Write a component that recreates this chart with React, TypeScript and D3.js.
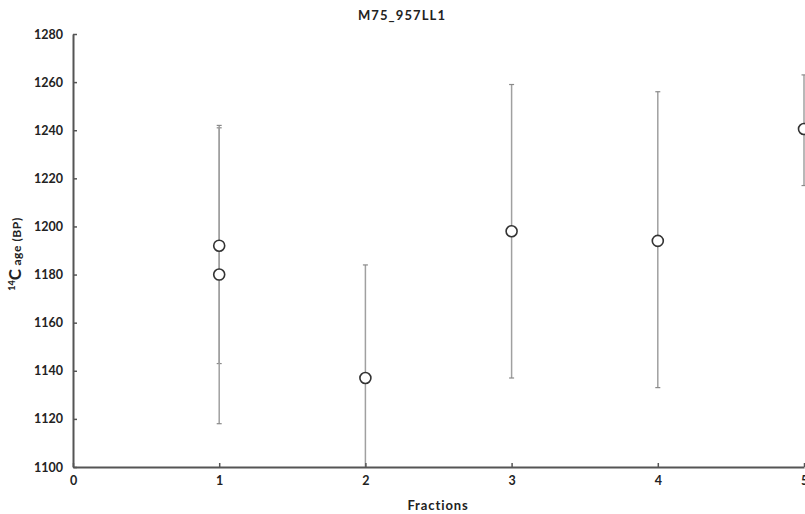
import { axisBottom, axisLeft, scaleLinear, select } from "d3";
import { useEffect, useRef } from "react";

const title = "M75_957LL1";
const xLabel = "Fractions";
const xTicks = [0, 1, 2, 3, 4, 5];
const yTicks = [1100, 1120, 1140, 1160, 1180, 1200, 1220, 1240, 1260, 1280];

// one entry per measurement (fraction 1 has two)
const fractions = [1, 1, 2, 3, 4, 5];
const ages = [1192, 1180, 1137, 1198, 1194, 1240.5];
const errLow = [1143, 1118, 1090, 1137, 1133, 1217];
const errHigh = [1241, 1242, 1184, 1259, 1256, 1263];

export default function App() {
    const ref = useRef<SVGSVGElement>(null);

    useEffect(() => {
        const svg = select(ref.current);
        svg.selectAll("*").remove();
        const left = 73, right = 804, top = 34, bottom = 467;
        const font = "Lato, 'Open Sans', sans-serif";

        const x = scaleLinear().domain([0, 5]).range([left, right]);
        const y = scaleLinear().domain([1100, 1280]).range([bottom, top]);

        svg.append("defs").append("clipPath").attr("id", "plot")
            .append("rect")
            .attr("x", left).attr("y", top - 10)
            .attr("width", right - left + 10).attr("height", bottom - top + 10);

        // error bars
        const bars = svg.append("g").attr("clip-path", "url(#plot)");
        fractions.forEach((f, i) => {
            const cx = x(f);
            bars.append("line")
                .attr("x1", cx).attr("x2", cx)
                .attr("y1", y(errLow[i])).attr("y2", y(errHigh[i]))
                .attr("stroke", "#a0a0a0").attr("stroke-width", 1.5);
            [errLow[i], errHigh[i]].forEach(v => {
                bars.append("line")
                    .attr("x1", cx - 2.5).attr("x2", cx + 2.5)
                    .attr("y1", y(v)).attr("y2", y(v))
                    .attr("stroke", "#8a8a8a").attr("stroke-width", 1.2);
            });
        });
        fractions.forEach((f, i) => {
            bars.append("circle")
                .attr("cx", x(f)).attr("cy", y(ages[i])).attr("r", 5.5)
                .attr("fill", "white").attr("stroke", "#333").attr("stroke-width", 1.6);
        });

        // axes
        const yAxis = svg.append("g")
            .attr("transform", `translate(${left},0)`)
            .call(axisLeft(y).tickValues(yTicks).tickFormat(d => String(d)).tickSizeInner(-4).tickSizeOuter(0).tickPadding(10));
        const xAxis = svg.append("g")
            .attr("transform", `translate(0,${bottom})`)
            .call(axisBottom(x).tickValues(xTicks).tickFormat(d => String(d)).tickSizeInner(-4).tickSizeOuter(0).tickPadding(9));
        [yAxis, xAxis].forEach(a => {
            a.select(".domain").attr("stroke", "#555").attr("stroke-width", 2);
            a.selectAll(".tick line").attr("stroke", "#555").attr("stroke-width", 1.5);
            a.selectAll("text")
                .attr("font-family", font).attr("font-weight", "bold")
                .attr("font-size", 12.5).attr("fill", "#222");
        });

        svg.append("text")
            .attr("x", 402).attr("y", 20)
            .attr("text-anchor", "middle")
            .attr("font-family", font).attr("font-weight", "bold").attr("font-size", 13)
            .attr("letter-spacing", 1.1)
            .attr("fill", "#222")
            .text(title);

        svg.append("text")
            .attr("x", 438).attr("y", 510)
            .attr("text-anchor", "middle")
            .attr("font-family", font).attr("font-weight", "bold").attr("font-size", 13)
            .attr("letter-spacing", 0.9)
            .attr("fill", "#222")
            .text(xLabel);

        const yl = svg.append("text")
            .attr("transform", "translate(21,254) rotate(-90)")
            .attr("text-anchor", "middle")
            .attr("font-family", font).attr("fill", "#222");
        yl.append("tspan").attr("font-size", 9).attr("font-weight", "bold").attr("dy", -6).text("14");
        yl.append("tspan").attr("font-size", 17).attr("font-weight", "bold").attr("dy", 6).text("C");
        yl.append("tspan").attr("font-size", 12).attr("font-weight", "bold").attr("letter-spacing", 0.6).text(" age (BP)");
    }, []);

    return (
        <svg ref={ref} width={805} height={514}
            style={{ position: "absolute", left: 0, top: 0, background: "white" }} />
    );
}
